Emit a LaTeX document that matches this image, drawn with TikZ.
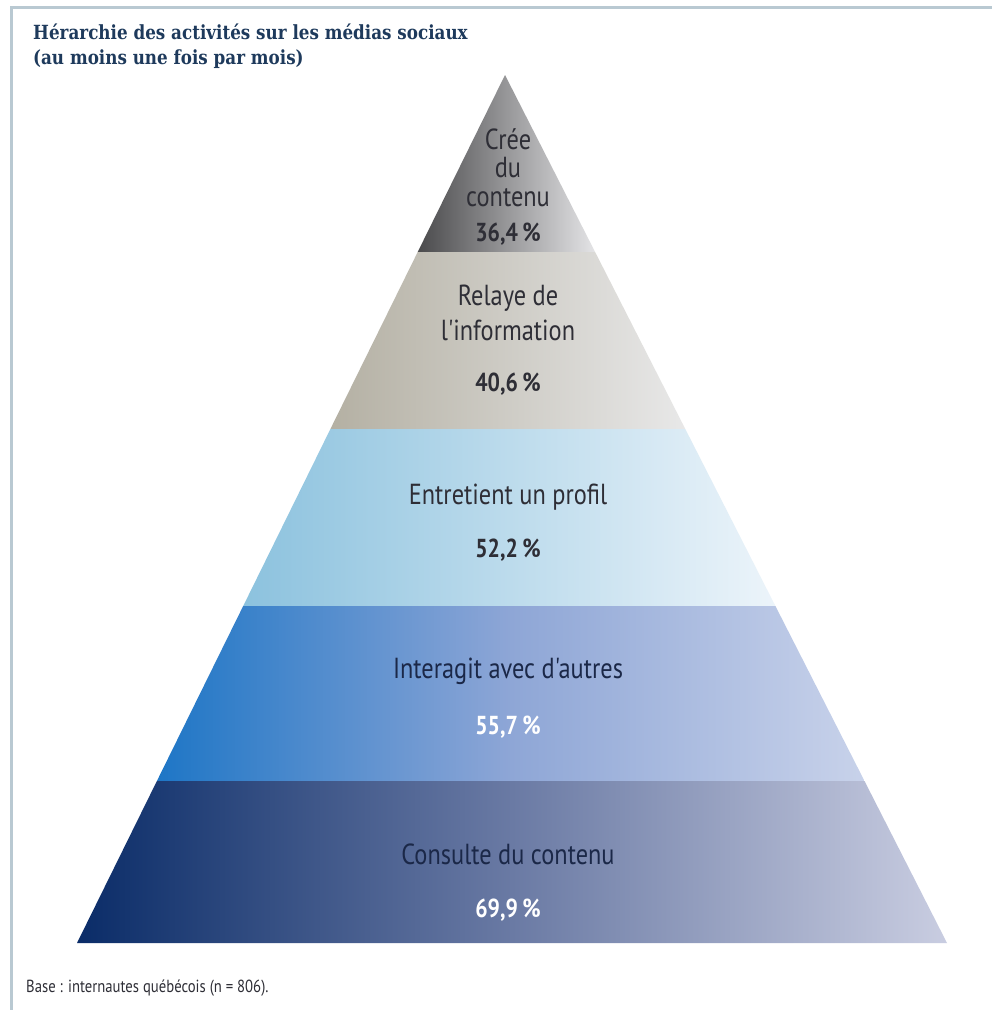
\documentclass[tikz,border=0pt]{standalone}
\usepackage{fontspec}
\setmainfont{PT Sans}
\newfontfamily\labelfont[FakeStretch=0.84]{PT Sans}
\newfontfamily\titlefont[FakeStretch=0.86]{DejaVu Serif}
\definecolor{framec}{HTML}{B9C9D2}
\definecolor{titlec}{HTML}{1E3A5C}
\definecolor{txtc}{HTML}{2E2E36}
\definecolor{navytxt}{HTML}{1B2848}
\definecolor{aL}{HTML}{4A4A4C}\definecolor{aR}{HTML}{E4E4E6}
\definecolor{bL}{HTML}{B4B0A3}\definecolor{bR}{HTML}{E8E8E8}
\definecolor{cL}{HTML}{8CC2DE}\definecolor{cR}{HTML}{ECF4FA}
\definecolor{dL}{HTML}{1E76C6}\definecolor{dM}{HTML}{8EA6D6}\definecolor{dR}{HTML}{C8D2EA}
\definecolor{eL}{HTML}{0A2C68}\definecolor{eM}{HTML}{6A7AA4}\definecolor{eR}{HTML}{C9CDE1}
\begin{document}
\begin{tikzpicture}[x=1pt,y=-1pt,
  lbl/.style={font=\labelfont\fontsize{29}{30}\selectfont, text=txtc, align=center, inner sep=0pt},
  pct/.style={font=\labelfont\bfseries\fontsize{26}{28}\selectfont, text=txtc, inner sep=0pt},
  pctw/.style={pct, text=white},
  frame/.style={draw=framec, line width=3pt}]
\useasboundingbox (0,0) rectangle (992,1010);
\fill[white] (0,0) rectangle (992,1010);
% frame
\draw[frame] (11.5,1010) -- (11.5,7.5) -- (992,7.5);
% pyramid corners
\coordinate (apex) at (505,75);
\coordinate (l1) at (417.7,252); \coordinate (r1) at (595.1,252);
\coordinate (l2) at (330.4,429); \coordinate (r2) at (685.3,429);
\coordinate (l3) at (243.2,606); \coordinate (r3) at (775.4,606);
\coordinate (l4) at (156.9,781); \coordinate (r4) at (864.5,781);
\coordinate (l5) at (77,943);    \coordinate (r5) at (947,943);
% bands
\shade[left color=aL, right color=aR] (apex) -- (r1) -- (l1) -- cycle;
\shade[left color=bL, right color=bR] (l1) -- (r1) -- (r2) -- (l2) -- cycle;
\shade[left color=cL, right color=cR] (l2) -- (r2) -- (r3) -- (l3) -- cycle;
\shade[left color=dL, right color=dR, middle color=dM] (l3) -- (r3) -- (r4) -- (l4) -- cycle;
\shade[left color=eL, right color=eR, middle color=eM] (l4) -- (r4) -- (r5) -- (l5) -- cycle;
% title
\node[anchor=north west, inner sep=0pt, align=left, text=titlec,
  font=\titlefont\bfseries\fontsize{19.5}{25}\selectfont] (title) at (33,24)
  {Hérarchie des activités sur les médias sociaux\\(au moins une fois par mois)};
% labels
\node[lbl] (t1) at (508,139) {Crée};
\node[lbl] (t2) at (508,168) {du};
\node[lbl] (t3) at (508,198) {contenu};
\node[pct] (p1) at (508,234) {36,4\,\%};
\node[lbl] (t4) at (508,298) {Relaye de};
\node[lbl] (t5) at (508,330) {l'information};
\node[pct] (p2) at (508,384) {40,6\,\%};
\node[lbl] (t6) at (508,497) {Entretient un profil};
\node[pct] (p3) at (508,550) {52,2\,\%};
\node[lbl, text=navytxt] (t7) at (508,671) {Interagit avec d'autres};
\node[pctw] (p4) at (508,727) {55,7\,\%};
\node[lbl, text=navytxt] (t8) at (508,854) {Consulte du contenu};
\node[pctw] (p5) at (508,910) {69,9\,\%};
% footnote
\node[anchor=west, inner sep=0pt, text=txtc, font=\labelfont\fontsize{17.5}{19}\selectfont] (foot) at (26,988)
  {Base : internautes québécois (n = 806).};
\end{tikzpicture}
\end{document}
